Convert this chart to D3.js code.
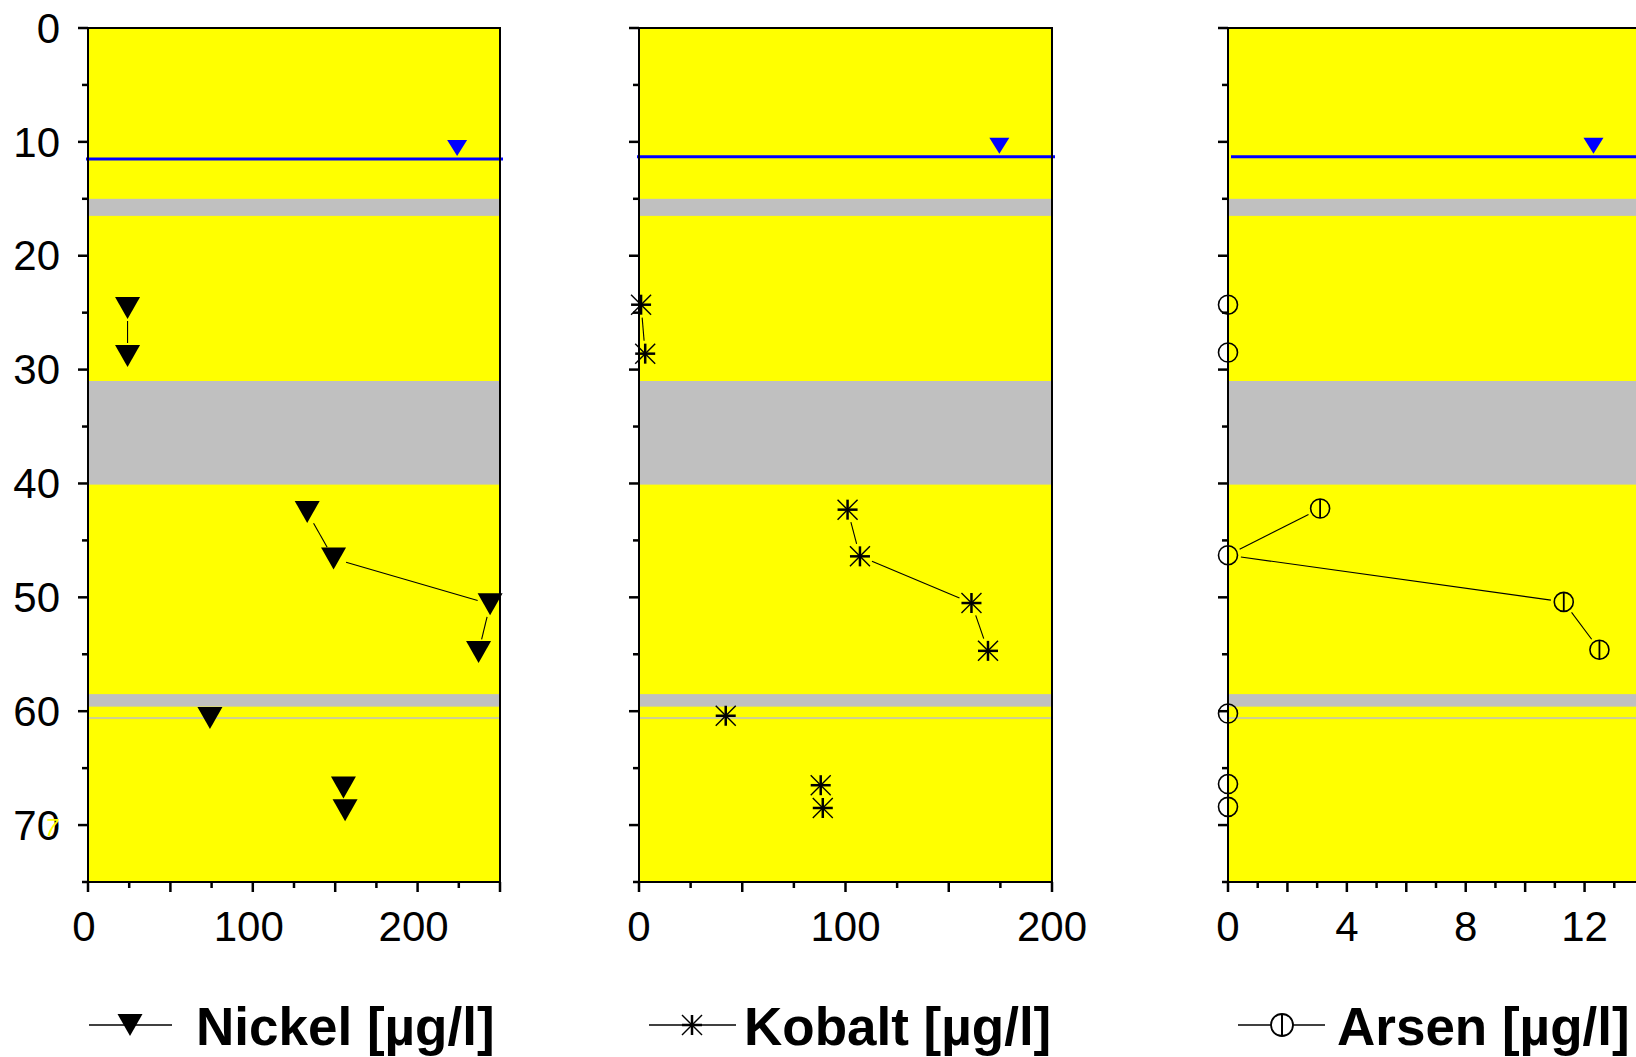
<!DOCTYPE html>
<html><head><meta charset="utf-8">
<script src="https://cdn.jsdelivr.net/npm/d3@7"></script>
<style>
html,body{margin:0;padding:0;background:#fff;overflow:hidden;}
svg{display:block;font-family:"Liberation Sans",Arial,sans-serif;}
</style></head>
<body>
<svg id="chart" width="1636" height="1057"></svg>
<script>
// ---------- data ----------
const depthDomain = [0, 75];
const depthTicksMajor = [0, 10, 20, 30, 40, 50, 60, 70];
const depthTicksMinor = [5, 15, 25, 35, 45, 55, 65, 75];

const nickelDepth = [24.6, 28.8, 42.5, 46.6, 50.6, 54.8, 60.6, 66.7, 68.7];
const nickelValue = [24, 24, 133, 149, 244, 237, 74, 155, 156];
const nickelGroup = [1, 1, 2, 2, 2, 2, 3, 4, 4];

const kobaltDepth = [24.3, 28.6, 42.3, 46.4, 50.5, 54.7, 60.4, 66.5, 68.5];
const kobaltValue = [1, 3, 101, 107, 161, 169, 42, 88, 89];
const kobaltGroup = [1, 1, 2, 2, 2, 2, 3, 4, 4];

const arsenDepth = [24.3, 28.5, 42.2, 46.3, 50.4, 54.6, 60.2, 66.4, 68.4];
const arsenValue = [0, 0, 3.1, 0, 11.3, 12.5, 0, 0, 0];
const arsenGroup = [1, 1, 2, 2, 2, 2, 3, 4, 4];

const greyBands = [[15, 16.5], [31, 40.1], [58.5, 59.6]];
const thinGreyLine = 60.6;

const waterLevel = [11.5, 11.3, 11.3];
const waterMarkerX = [224, 174.5, 12.3];

const xDomains = [[0, 250], [0, 200], [0, 14]];
const xTickStep = [25, 25, 1];
const xMajorStep = [50, 50, 2];
const xTickLabels = [[0, 100, 200], [0, 100, 200], [0, 4, 8, 12]];

const legendLabels = ["Nickel [µg/l]", "Kobalt [µg/l]", "Arsen [µg/l]"];

// ---------- layout ----------
const svg = d3.select("#chart");
const plotTop = 28, plotBottom = 882;
const panelX = [[88, 500], [639, 1052], [1228, 1644]];
const y = d3.scaleLinear().domain(depthDomain).range([plotTop, plotBottom]);

const series = [
  {depth: nickelDepth, value: nickelValue, group: nickelGroup, sym: "tri"},
  {depth: kobaltDepth, value: kobaltValue, group: kobaltGroup, sym: "star"},
  {depth: arsenDepth, value: arsenValue, group: arsenGroup, sym: "circ"}
];

function drawSymbol(g, type, cx, cy, color) {
  if (type === "tri") {
    const w = 12.5, h = 11;
    g.append("path").attr("d", `M${cx - w},${cy - h}L${cx + w},${cy - h}L${cx},${cy + h}Z`)
      .attr("fill", color || "#000");
  } else if (type === "star") {
    const r = 10;
    g.append("line").attr("x1", cx).attr("x2", cx).attr("y1", cy - r).attr("y2", cy + r)
      .attr("stroke", "#000").attr("stroke-width", 2.5);
    g.append("line").attr("x1", cx - r).attr("x2", cx + r).attr("y1", cy).attr("y2", cy)
      .attr("stroke", "#000").attr("stroke-width", 2.5);
    g.append("line").attr("x1", cx - r).attr("x2", cx + r).attr("y1", cy - r).attr("y2", cy + r)
      .attr("stroke", "#000").attr("stroke-width", 1.4);
    g.append("line").attr("x1", cx - r).attr("x2", cx + r).attr("y1", cy + r).attr("y2", cy - r)
      .attr("stroke", "#000").attr("stroke-width", 1.4);
  } else if (type === "circ") {
    const r = 9.5;
    g.append("circle").attr("cx", cx).attr("cy", cy).attr("r", r)
      .attr("fill", "none").attr("stroke", "#000").attr("stroke-width", 1.6);
    g.append("line").attr("x1", cx).attr("x2", cx).attr("y1", cy - r).attr("y2", cy + r)
      .attr("stroke", "#000").attr("stroke-width", 1.8);
  }
}

panelX.forEach((px, i) => {
  const x = d3.scaleLinear().domain(xDomains[i]).range(px);
  const g = svg.append("g");
  const x0 = px[0], x1 = px[1];

  g.append("rect").attr("x", x0).attr("y", plotTop).attr("width", x1 - x0).attr("height", plotBottom - plotTop)
    .attr("fill", "#ffff00");

  greyBands.forEach(b => {
    g.append("rect").attr("x", x0).attr("width", x1 - x0)
      .attr("y", y(b[0])).attr("height", y(b[1]) - y(b[0])).attr("fill", "#c0c0c0");
  });
  g.append("line").attr("x1", x0).attr("x2", x1).attr("y1", y(thinGreyLine)).attr("y2", y(thinGreyLine))
    .attr("stroke", "#c0c0c0").attr("stroke-width", 1.5);

  g.append("line").attr("x1", x0 - 2 + (i === 2 ? 5 : 0)).attr("x2", x1 + 3)
    .attr("y1", y(waterLevel[i])).attr("y2", y(waterLevel[i]))
    .attr("stroke", "#0000ff").attr("stroke-width", 3);
  const wx = x(waterMarkerX[i]), wy = y(waterLevel[i]) - 3;
  g.append("path").attr("d", `M${wx - 10},${wy - 16}L${wx + 10},${wy - 16}L${wx},${wy}Z`).attr("fill", "#0000ff");

  const s = series[i];
  const gap = 13;
  for (let k = 0; k < s.depth.length - 1; k++) {
    if (s.group[k] !== s.group[k + 1]) continue;
    const ax = x(s.value[k]), ay = y(s.depth[k]);
    const bx = x(s.value[k + 1]), by = y(s.depth[k + 1]);
    const len = Math.hypot(bx - ax, by - ay);
    if (len <= 2 * gap) continue;
    const ux = (bx - ax) / len, uy = (by - ay) / len;
    g.append("line").attr("x1", ax + ux * gap).attr("y1", ay + uy * gap)
      .attr("x2", bx - ux * gap).attr("y2", by - uy * gap)
      .attr("stroke", "#000").attr("stroke-width", 1.1);
  }

  g.append("rect").attr("x", x0).attr("y", plotTop).attr("width", x1 - x0).attr("height", plotBottom - plotTop)
    .attr("fill", "none").attr("stroke", "#000").attr("stroke-width", 2);

  depthTicksMajor.forEach(d => {
    g.append("line").attr("x1", x0 - 10).attr("x2", x0).attr("y1", y(d)).attr("y2", y(d))
      .attr("stroke", "#000").attr("stroke-width", 2.5);
    if (i === 0) {
      g.append("text").attr("x", x0 - 28).attr("y", y(d)).attr("dy", "0.35em")
        .attr("text-anchor", "end").attr("font-size", 42).attr("fill", "#000").text(d);
    }
  });
  depthTicksMinor.forEach(d => {
    g.append("line").attr("x1", x0 - 6).attr("x2", x0).attr("y1", y(d)).attr("y2", y(d))
      .attr("stroke", "#000").attr("stroke-width", 2.5);
  });

  const dom = xDomains[i];
  for (let v = dom[0]; v <= dom[1] + 1e-9; v += xTickStep[i]) {
    const major = Math.abs(v % xMajorStep[i]) < 1e-9;
    g.append("line").attr("x1", x(v)).attr("x2", x(v)).attr("y1", plotBottom).attr("y2", plotBottom + (major ? 10 : 6))
      .attr("stroke", "#000").attr("stroke-width", 2.5);
  }
  xTickLabels[i].forEach(v => {
    g.append("text").attr("x", x(v) + (i === 0 ? -4 : 0)).attr("y", 941).attr("text-anchor", "middle")
      .attr("font-size", 42).attr("fill", "#000").text(v);
  });

  for (let k = 0; k < s.depth.length; k++) {
    drawSymbol(g, s.sym, x(s.value[k]), y(s.depth[k]));
  }
});

svg.append("text").attr("x", 45).attr("y", 836).attr("font-size", 24).attr("fill", "#ffff00")
  .attr("font-style", "italic").text("7");

const legendPos = [
  {l0: 89, l1: 172, sx: 130, tx: 196},
  {l0: 649, l1: 736, sx: 692, tx: 744},
  {l0: 1238, l1: 1325, sx: 1282, tx: 1337}
];
legendPos.forEach((p, i) => {
  const g = svg.append("g");
  const ly = 1025;
  g.append("line").attr("x1", p.l0).attr("x2", p.l1).attr("y1", ly).attr("y2", ly)
    .attr("stroke", "#000").attr("stroke-width", 1.3);
  if (series[i].sym === "circ") {
    g.append("circle").attr("cx", p.sx).attr("cy", ly).attr("r", 11).attr("fill", "#fff")
      .attr("stroke", "#000").attr("stroke-width", 1.8);
    g.append("line").attr("x1", p.sx).attr("x2", p.sx).attr("y1", ly - 11).attr("y2", ly + 11)
      .attr("stroke", "#000").attr("stroke-width", 2);
  } else {
    drawSymbol(g, series[i].sym, p.sx, ly);
  }
  g.append("text").attr("x", p.tx).attr("y", 1045).attr("font-size", 53).attr("font-weight", "bold")
    .attr("fill", "#000").text(legendLabels[i]);
});
</script>
</body></html>
